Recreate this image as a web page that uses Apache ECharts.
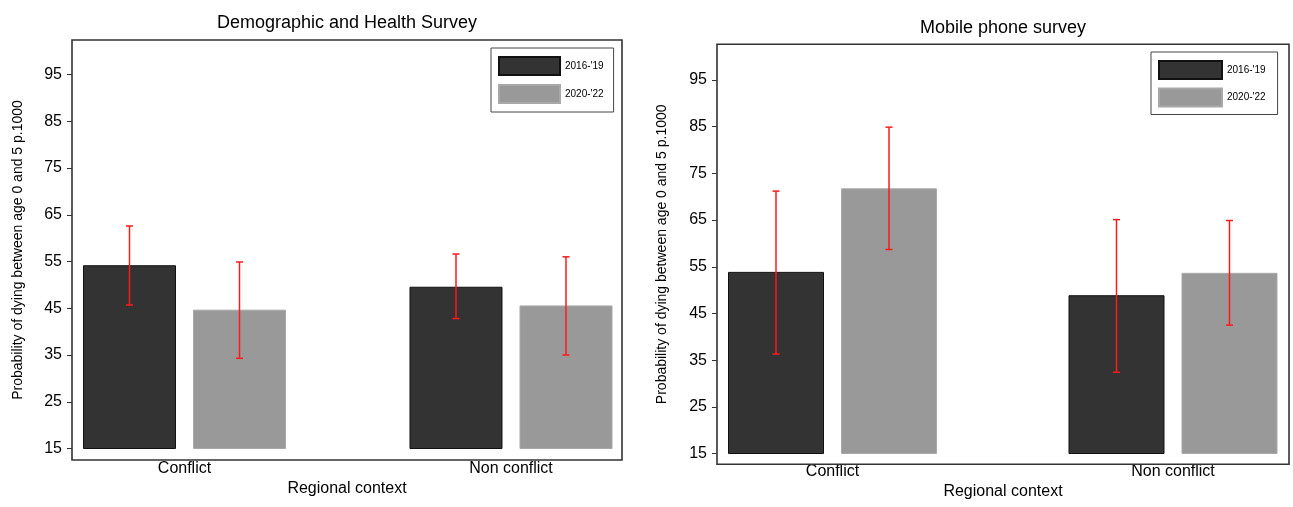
<!DOCTYPE html>
<html>
<head>
<meta charset="utf-8">
<title>Under-five mortality by survey</title>
<script src="https://cdn.jsdelivr.net/npm/echarts@6/dist/echarts.min.js"></script>
<style>
  html, body { margin: 0; padding: 0; background: #fff; }
  #chart { width: 1293px; height: 507px; }
</style>
</head>
<body>
<div id="chart"></div>
<script>
// Regions and periods
const categories = ['Conflict', 'Non conflict'];
const periods = ["2016-'19", "2020-'22"];

// Y axis ticks
const yMin = 15;
const yMax = 95;
const yStep = 10;

// Demographic and Health Survey: estimates and 95% intervals [low, high]
const dhsEarly = [54.2, 49.6];
const dhsLate = [44.7, 45.6];
const dhsEarlyCI = [[45.7, 62.6], [42.8, 56.6]];
const dhsLateCI = [[34.3, 54.9], [35.0, 56.0]];

// Mobile phone survey: estimates and 95% intervals [low, high]
const mobEarly = [53.9, 48.9];
const mobLate = [71.8, 53.7];
const mobEarlyCI = [[36.3, 71.2], [32.4, 65.1]];
const mobLateCI = [[58.7, 84.9], [42.5, 64.9]];

const FONT = "'Liberation Sans', Arial, sans-serif";
const DARK = '#333333';
const LIGHT = '#999999';
const RED = '#ff1a1a';

// Panel geometry (plot frame and bar layout)
const panels = [
  {
    title: 'Demographic and Health Survey',
    frame: { x: 72, y: 40, w: 550, h: 420 },
    axisTop: 74.5, axisBottom: 448.5,
    barGrid: { left: 21.25, width: 653 },
    barWidth: 93, barGapPx: 17,
    labelMargin: 12,
    titleY: 23, xNameY: 489, yNameX: 18.5,
    legend: { left: 491, top: 48, itemWidth: 61, padding: [8, 10, 8, 7], gap: 8 },
    early: dhsEarly, late: dhsLate, earlyCI: dhsEarlyCI, lateCI: dhsLateCI
  },
  {
    title: 'Mobile phone survey',
    frame: { x: 717, y: 44.3, w: 572, h: 420 },
    axisTop: 80, axisBottom: 453.5,
    barGrid: { left: 662.25, width: 681 },
    barWidth: 96, barGapPx: 17,
    labelMargin: 10,
    titleY: 28, xNameY: 492, yNameX: 662.5,
    legend: { left: 1151, top: 52, itemWidth: 63, padding: [8, 12, 7, 7], gap: 7.5 },
    early: mobEarly, late: mobLate, earlyCI: mobEarlyCI, lateCI: mobLateCI
  }
];

const grid = [], xAxis = [], yAxis = [], series = [], legend = [], graphic = [];

function errorBars(ci, offset, xIdx, yIdx) {
  return {
    type: 'custom',
    xAxisIndex: xIdx,
    yAxisIndex: yIdx,
    silent: true,
    z: 5,
    data: ci.map((r, i) => [i, r[0], r[1]]),
    renderItem: function (params, api) {
      const lo = api.coord([api.value(0), api.value(1)]);
      const hi = api.coord([api.value(0), api.value(2)]);
      const x = lo[0] + offset;
      const cap = 3.5;
      const style = { stroke: RED, lineWidth: 1.5 };
      return {
        type: 'group',
        children: [
          { type: 'line', shape: { x1: x, y1: lo[1], x2: x, y2: hi[1] }, style: style },
          { type: 'line', shape: { x1: x - cap, y1: lo[1], x2: x + cap, y2: lo[1] }, style: style },
          { type: 'line', shape: { x1: x - cap, y1: hi[1], x2: x + cap, y2: hi[1] }, style: style }
        ]
      };
    }
  };
}

panels.forEach((p) => {
  const gBar = grid.length;
  const height = p.axisBottom - p.axisTop;
  // grid carrying the bars and category labels
  grid.push({ left: p.barGrid.left, width: p.barGrid.width, top: p.axisTop, height: height,
              containLabel: false, outerBoundsMode: 'none' });
  // grid carrying the visible value axis along the frame
  grid.push({ left: p.frame.x, width: p.frame.w, top: p.axisTop, height: height,
              containLabel: false, outerBoundsMode: 'none' });

  const xBar = xAxis.length;
  xAxis.push({
    type: 'category', gridIndex: gBar, data: categories,
    axisLine: { show: false }, axisTick: { show: false },
    axisLabel: { margin: p.labelMargin, fontSize: 16, color: '#000', fontFamily: FONT }
  });
  xAxis.push({ type: 'value', gridIndex: gBar + 1, show: false });

  const yBar = yAxis.length;
  yAxis.push({ type: 'value', gridIndex: gBar, min: yMin, max: yMax, interval: yStep, show: false });
  yAxis.push({
    type: 'value', gridIndex: gBar + 1, min: yMin, max: yMax, interval: yStep,
    axisLine: { show: false },
    axisTick: { show: true, length: 5, lineStyle: { color: '#333', width: 1 } },
    axisLabel: { margin: 10, fontSize: 16, color: '#000', fontFamily: FONT },
    splitLine: { show: false }
  });

  const gapPct = (p.barGapPx / p.barWidth * 100).toFixed(1) + '%';
  series.push({
    name: periods[0], type: 'bar', xAxisIndex: xBar, yAxisIndex: yBar,
    data: p.early, barWidth: p.barWidth, barGap: gapPct,
    itemStyle: { color: DARK, borderColor: '#111', borderWidth: 1 }
  });
  series.push({
    name: periods[1], type: 'bar', xAxisIndex: xBar, yAxisIndex: yBar,
    data: p.late, barWidth: p.barWidth, barGap: gapPct,
    itemStyle: { color: LIGHT, borderColor: '#a8a8a8', borderWidth: 1 }
  });
  const off = (p.barWidth + p.barGapPx) / 2;
  series.push(errorBars(p.earlyCI, -off, xBar, yBar));
  series.push(errorBars(p.lateCI, off, xBar, yBar));

  legend.push({
    data: periods, orient: 'vertical',
    left: p.legend.left, top: p.legend.top,
    itemWidth: p.legend.itemWidth, itemHeight: 18, itemGap: p.legend.gap,
    padding: p.legend.padding,
    borderColor: '#444', borderWidth: 1,
    icon: 'rect', selectedMode: false,
    textStyle: { fontSize: 10, color: '#000', fontFamily: FONT }
  });

  const f = p.frame;
  const cx = f.x + f.w / 2;
  graphic.push({
    type: 'rect', shape: { x: f.x, y: f.y, width: f.w, height: f.h },
    style: { fill: 'none', stroke: '#333', lineWidth: 1.6 }, z: 10, silent: true
  });
  graphic.push({
    type: 'text', x: cx, y: p.titleY,
    style: { text: p.title, fill: '#000', font: '18px ' + FONT, textAlign: 'center', textVerticalAlign: 'middle' }
  });
  graphic.push({
    type: 'text', x: cx, y: p.xNameY,
    style: { text: 'Regional context', fill: '#000', font: '16px ' + FONT, textAlign: 'center', textVerticalAlign: 'middle' }
  });
  graphic.push({
    type: 'text', x: p.yNameX, y: f.y + f.h / 2, rotation: Math.PI / 2,
    style: { text: 'Probability of dying between age 0 and 5 p.1000', fill: '#000', font: '14px ' + FONT, textAlign: 'center', textVerticalAlign: 'middle' }
  });
});

const chart = echarts.init(document.getElementById('chart'), null, { renderer: 'canvas' });
chart.setOption({
  animation: false,
  backgroundColor: '#fff',
  grid: grid,
  xAxis: xAxis,
  yAxis: yAxis,
  legend: legend,
  series: series,
  graphic: graphic
});
</script>
</body>
</html>
